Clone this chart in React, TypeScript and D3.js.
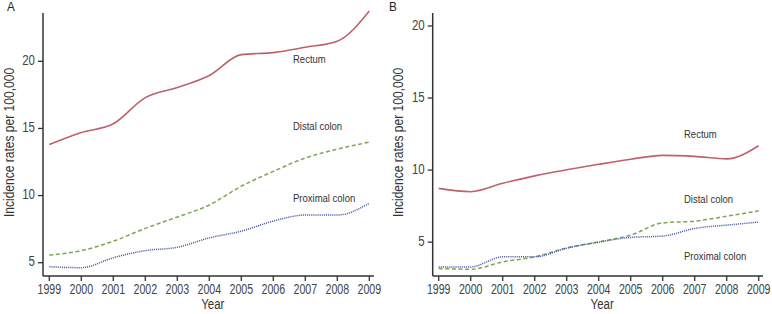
import React from "react";
import * as d3 from "d3";

const years = [1999, 2000, 2001, 2002, 2003, 2004, 2005, 2006, 2007, 2008, 2009];
const yTicks = [5, 10, 15, 20];

const rectumA = [13.8, 14.7, 15.35, 17.3, 18.05, 18.95, 20.5, 20.65, 21.05, 21.5, 23.75];
const distalA = [5.57, 5.9, 6.6, 7.56, 8.4, 9.3, 10.7, 11.8, 12.8, 13.46, 13.98];
const proximalA = [4.7, 4.63, 5.37, 5.9, 6.15, 6.85, 7.35, 8.1, 8.55, 8.55, 9.43];

const rectumB = [8.73, 8.5, 9.08, 9.6, 10.02, 10.4, 10.75, 11.02, 10.95, 10.78, 11.69];
const distalB = [3.17, 3.12, 3.63, 3.98, 4.6, 5.02, 5.49, 6.34, 6.46, 6.8, 7.17];
const proximalB = [3.28, 3.28, 3.98, 3.98, 4.58, 5.0, 5.33, 5.42, 5.95, 6.18, 6.39];

const seriesNames = ["Rectum", "Distal colon", "Proximal colon"];
const colors = ["#c0606a", "#7da552", "#4b5da8"];
const dashes = ["none", "4,2.6", "1.1,1"];

const FONT = "'Liberation Sans', Arial, sans-serif";
const AXIS = "#333";

type CTextProps = {
  x: number;
  y: number;
  sx?: number;
  rotate?: number;
  size: number;
  anchor?: "start" | "middle" | "end";
  fill?: string;
  children: React.ReactNode;
};

function CText({ x, y, sx = 0.8, rotate = 0, size, anchor = "start", fill = "#333", children }: CTextProps) {
  return (
    <text
      transform={`translate(${x},${y}) rotate(${rotate}) scale(${sx},1)`}
      fontSize={size}
      fill={fill}
      textAnchor={anchor}
      dominantBaseline="middle"
    >
      {children}
    </text>
  );
}

type PanelProps = {
  letter: string;
  x0: number;
  xStart: number;
  xEnd: number;
  axisRight: number;
  yDomain: [number, number];
  data: number[][];
  labelX: number;
  labelY: number[];
  letterX: number;
};

function Panel(p: PanelProps) {
  const top = 13;
  const bottom = 276;
  const x = d3.scaleLinear().domain([1999, 2009]).range([p.xStart, p.xEnd]);
  const y = d3.scaleLinear().domain(p.yDomain).range([bottom, top]);
  const line = d3
    .line<number>()
    .x((_, i) => x(years[i]))
    .y((d) => y(d))
    .curve(d3.curveMonotoneX);
  return (
    <g fontFamily={FONT}>
      <CText x={p.letterX} y={8} size={13} sx={0.9} fill="#222">
        {p.letter}
      </CText>
      {p.data.map((s, i) => (
        <path
          key={i}
          d={line(s) || ""}
          fill="none"
          stroke={colors[i]}
          strokeWidth={i === 0 ? 1.6 : 1.5}
          strokeDasharray={dashes[i]}
        />
      ))}
      {seriesNames.map((n, i) => (
        <CText key={n} x={p.labelX} y={p.labelY[i]} size={11.6} sx={0.82}>
          {n}
        </CText>
      ))}
      <line x1={p.x0} x2={p.x0} y1={top} y2={bottom} stroke={AXIS} strokeWidth={1.5} />
      <line x1={p.x0} x2={p.axisRight} y1={bottom} y2={bottom} stroke={AXIS} strokeWidth={1.5} />
      {yTicks.map((t) => (
        <g key={t}>
          <line x1={p.x0 - 5} x2={p.x0} y1={y(t)} y2={y(t)} stroke={AXIS} strokeWidth={1.3} />
          <CText x={p.x0 - 8} y={y(t)} size={14} sx={0.82} anchor="end" fill="#444">
            {t}
          </CText>
        </g>
      ))}
      {years.map((t) => (
        <g key={t}>
          <line x1={x(t)} x2={x(t)} y1={bottom} y2={bottom + 5} stroke={AXIS} strokeWidth={1.3} />
          <CText x={x(t)} y={290} size={13.8} sx={0.77} anchor="middle" fill="#444">
            {t}
          </CText>
        </g>
      ))}
      <CText x={(p.xStart + p.xEnd) / 2 + 3.5} y={305} size={14} sx={0.82} anchor="middle">
        Year
      </CText>
      <CText x={p.x0 - 33} y={142.5} size={14} sx={0.86} rotate={-90} anchor="middle">
        Incidence rates per 100,000
      </CText>
    </g>
  );
}

export default function App() {
  return (
    <svg
      width={772}
      height={314}
      style={{ position: "absolute", left: 0, top: 0, background: "#fff" }}
    >
      <Panel
        letter="A"
        x0={43}
        xStart={49.3}
        xEnd={369.3}
        axisRight={374}
        yDomain={[4.01, 23.6]}
        data={[rectumA, distalA, proximalA]}
        labelX={293}
        labelY={[60, 127, 199]}
        letterX={7}
      />
      <Panel
        letter="B"
        x0={432.7}
        xStart={438.7}
        xEnd={758.7}
        axisRight={763}
        yDomain={[2.65, 20.9]}
        data={[rectumB, distalB, proximalB]}
        labelX={684}
        labelY={[135, 200, 257]}
        letterX={389}
      />
    </svg>
  );
}
